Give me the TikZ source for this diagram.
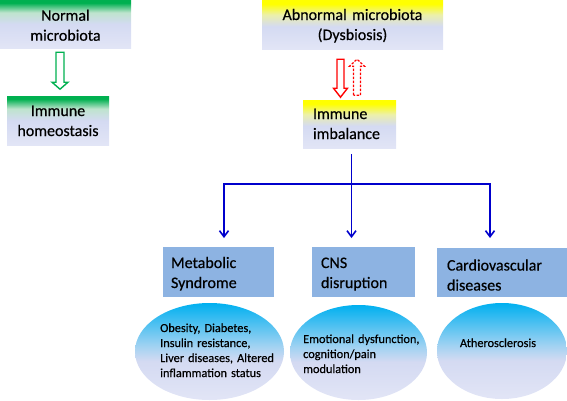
\documentclass[tikz,border=0pt]{standalone}
\usepackage{fontspec}
\setmainfont{Carlito}[FakeBold=0.5]
\usepackage{xcolor}
\usetikzlibrary{shapes.geometric,arrows.meta,calc}

\definecolor{gtop}{RGB}{0,176,80}
\definecolor{gpale}{RGB}{190,228,205}
\definecolor{ytop}{RGB}{255,255,0}
\definecolor{ypale}{RGB}{236,240,170}
\definecolor{lav}{RGB}{212,218,242}
\definecolor{lavlight}{RGB}{226,229,246}
\definecolor{boxblue}{RGB}{141,179,226}
\definecolor{skytop}{RGB}{0,176,240}
\definecolor{skymid}{RGB}{160,210,242}
\definecolor{treeblue}{RGB}{0,0,204}
\definecolor{arrowred}{RGB}{255,0,0}

\pgfdeclareverticalshading{greenfade}{100bp}{color(0bp)=(lavlight); color(25bp)=(lavlight); color(50bp)=(lav); color(62bp)=(gpale); color(72bp)=(gtop); color(100bp)=(gtop)}
\pgfdeclareverticalshading{yellowfade}{100bp}{color(0bp)=(lavlight); color(25bp)=(lavlight); color(48bp)=(lav); color(60bp)=(ypale); color(71bp)=(ytop); color(100bp)=(ytop)}
\pgfdeclareverticalshading{bubblefade}{100bp}{color(0bp)=(lavlight); color(25bp)=(lavlight); color(45bp)=(lav); color(53bp)=(skymid); color(75bp)=(skytop); color(100bp)=(skytop)}

\begin{document}
\begin{tikzpicture}[x=1pt, y=-1pt,
    every node/.style={font=\fontsize{16}{20}\selectfont, inner sep=0pt},
    greenbox/.style={rectangle, shading=greenfade, align=center},
    yellowbox/.style={rectangle, shading=yellowfade},
    bluebox/.style={rectangle, fill=boxblue, align=left},
    bubble/.style={ellipse, shading=bubblefade},
    bubbletext/.style={font=\fontsize{12.3}{15}\selectfont, align=left},
    link/.style={draw=treeblue, line width=1.6pt},
    blockarrow/.style={line width=1.4pt, line join=miter}]
    \useasboundingbox (0,0) rectangle (567,400);

    % left branch
    \node[greenbox, minimum width=131pt, minimum height=48pt, text width=121pt, text height=20.7pt, text depth=27.3pt] (normal) at (65.5,24) {Normal\\ microbiota};
    \node[greenbox, minimum width=102pt, minimum height=49pt, text width=96pt, text height=20pt, text depth=29pt] (homeo) at (58,120.5) {Immune\\ homeostasis};

    % right branch
    \node[yellowbox, align=center, minimum width=181pt, minimum height=49pt, text width=171pt, text height=20pt, text depth=29pt] (abnormal) at (352.5,24.5) {Abnormal microbiota\\ (Dysbiosis)};
    \node[yellowbox, align=left, minimum width=93pt, minimum height=48pt, text width=73pt, text height=19pt, text depth=29pt] (imbalance) at (349.5,124) {Immune\\ imbalance};

    \node[bluebox, minimum width=111pt, minimum height=50pt, text width=95pt, text height=21pt, text depth=29pt] (metabolic) at (218.5,272) {Metabolic\\ Syndrome};
    \node[bluebox, minimum width=103pt, minimum height=50pt, text width=85pt, text height=21pt, text depth=29pt] (cns) at (363.5,272) {CNS\\ disruption};
    \node[bluebox, minimum width=130pt, minimum height=49pt, text width=110pt, text height=22.5pt, text depth=26.5pt] (cardio) at (502,272.5) {Cardiovascular\\ diseases};

    \node[bubble, minimum width=149pt, minimum height=97pt] (obesity) at (209.5,351.5) {};
    \node[bubble, minimum width=137pt, minimum height=95pt] (emotion) at (358.5,352.5) {};
    \node[bubble, minimum width=130pt, minimum height=96pt] (athero) at (502,351) {};
    \node[bubbletext, anchor=base west, text width=125pt] (obesitytext) at (160,332) {Obesity, Diabetes,\\ Insulin resistance,\\ Liver diseases, Altered\\ inflammation status};
    \node[bubbletext, anchor=base west, text width=125pt] (emotiontext) at (303,343) {Emotional dysfunction,\\ cognition/pain\\ modulation};
    \node[bubbletext, anchor=base] (atherotext) at (498,347) {Atherosclerosis};

    % block arrows
    \draw[blockarrow, draw=gtop] (normal.south) ++(-9.5,4) -- ++(8,0) -- ++(0,30) -- ++(4,0) -- ++(-8,7) -- ++(-8,-7) -- ++(4,0) -- cycle;
    \draw[blockarrow, draw=arrowred] (abnormal.south) ++(-15.5,10) -- ++(7,0) -- ++(0,29) -- ++(3.5,0) -- ++(-7,9) -- ++(-7,-9) -- ++(3.5,0) -- cycle;
    \draw[blockarrow, draw=arrowred, line width=1.2pt, dash pattern=on 2.5pt off 1.5pt] (abnormal.south) ++(1,46) -- ++(0,-29) -- ++(-4,0) -- ++(7.5,-7) -- ++(7.5,7) -- ++(-4,0) -- ++(0,29) -- cycle;

    % tree
    \coordinate (stem) at (351.5,154);
    \coordinate (hub) at (351.5,184);
    \coordinate (t1) at (224,238);
    \coordinate (t2) at (351.5,238);
    \coordinate (t3) at (490,238);
    \draw[link] (stem) -- (hub);
    \draw[link, -{Straight Barb[length=6pt,width=9pt]}] (hub) -| (t1);
    \draw[link, -{Straight Barb[length=6pt,width=9pt]}] (hub) -- (t2);
    \draw[link, -{Straight Barb[length=6pt,width=9pt]}] (hub) -| (t3);
\end{tikzpicture}
\end{document}
